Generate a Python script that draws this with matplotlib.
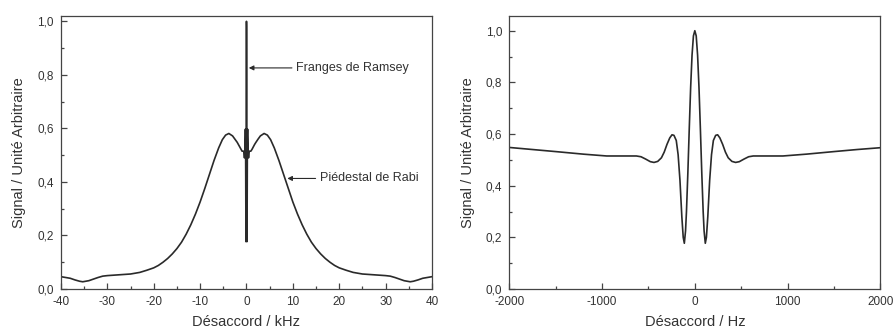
import numpy as np
import matplotlib
matplotlib.use("Agg")
from matplotlib import pyplot as plt
from matplotlib.ticker import MultipleLocator, FuncFormatter

plt.rcParams['font.family'] = ['Liberation Sans', 'DejaVu Sans']
plt.rcParams['axes.unicode_minus'] = False

# Ramsey fringes (right panel), detuning in Hz
fringe_hz = [-2000, -1750, -1500, -1200, -950, -800, -630, -580, -530, -480, -440, -400,
             -360, -330, -300, -270, -246, -225, -200, -180, -160, -140, -125, -113,
             -100, -90, -75, -60, -45, -30, -15, 0,
             15, 30, 45, 60, 75, 90, 100, 113, 125, 140, 160, 180, 200, 225, 246,
             270, 300, 330, 360, 400, 440, 480, 530, 580, 630, 800, 950, 1200, 1500,
             1750, 2000]
fringe_sig = [0.548, 0.540, 0.532, 0.522, 0.515, 0.515, 0.515, 0.512, 0.503, 0.493, 0.490, 0.494,
              0.508, 0.530, 0.560, 0.585, 0.597, 0.595, 0.575, 0.520, 0.420, 0.280, 0.200, 0.177,
              0.225, 0.300, 0.450, 0.620, 0.780, 0.905, 0.980, 1.000,
              0.980, 0.905, 0.780, 0.620, 0.450, 0.300, 0.225, 0.177, 0.200, 0.280, 0.420, 0.520,
              0.575, 0.595, 0.597,
              0.585, 0.560, 0.530, 0.508, 0.494, 0.490, 0.493, 0.503, 0.512, 0.515, 0.515, 0.515,
              0.522, 0.532, 0.540, 0.547]

# Rabi pedestal (left panel), detuning in kHz, outside the fringe region
ped_left_khz = [-40, -38, -37, -36, -35.3, -34, -33, -32, -31, -30, -27.5, -25, -23, -21.5,
                -20, -19, -18, -17, -16, -15, -14, -13, -12, -11, -10, -9, -8, -7, -6,
                -5.2, -4.5, -3.8, -3, -2.5]
ped_left_sig = [0.046, 0.040, 0.034, 0.029, 0.027, 0.031, 0.037, 0.043, 0.048, 0.050, 0.053, 0.056,
                0.062, 0.070, 0.079, 0.088, 0.100, 0.114, 0.131, 0.151, 0.175, 0.205, 0.240,
                0.280, 0.325, 0.375, 0.428, 0.480, 0.527, 0.558, 0.575, 0.581, 0.572, 0.560]
ped_right_khz = [2.5, 3, 3.8, 4.5, 5.2, 6, 7, 8, 9, 10, 11, 12, 13, 14, 15, 16, 17, 18, 19,
                 20, 21.5, 23, 25, 27.5, 30, 31, 32, 33, 34, 35.3, 36, 37, 38, 40]
ped_right_sig = [0.560, 0.572, 0.581, 0.575, 0.558, 0.527, 0.480, 0.428, 0.375, 0.325, 0.280,
                 0.240, 0.205, 0.175, 0.151, 0.131, 0.114, 0.100, 0.088, 0.079, 0.070, 0.062,
                 0.056, 0.053, 0.050, 0.048, 0.043, 0.037, 0.031, 0.027, 0.029, 0.034, 0.040, 0.046]

x_left = np.concatenate([ped_left_khz, np.array(fringe_hz) / 1000.0, ped_right_khz])
y_left = np.concatenate([ped_left_sig, fringe_sig, ped_right_sig])

line_col = "#2a2a2a"
txt_col = "#333333"
comma = FuncFormatter(lambda v, p: ("%.1f" % v).replace(".", ","))

fig = plt.figure(figsize=(8.94, 3.29), dpi=100)
ax1 = fig.add_axes([0.0682, 0.1216, 0.415, 0.8298])
ax2 = fig.add_axes([0.5697, 0.1216, 0.415, 0.8298])

ax1.plot(x_left, y_left, color=line_col, linewidth=1.2)
ax1.set_xlim(-40, 40)
ax1.set_ylim(0, 1.02)
ax1.xaxis.set_major_locator(MultipleLocator(10))
ax1.xaxis.set_minor_locator(MultipleLocator(5))
ax1.set_xlabel("Désaccord / kHz", fontsize=10.5, color=txt_col, labelpad=5)

ax1.annotate("Franges de Ramsey", xy=(0.5, 0.826), xytext=(10.7, 0.826),
             fontsize=9, color=txt_col, va="center",
             arrowprops=dict(arrowstyle="-|>", color=line_col, lw=0.8,
                             mutation_scale=7, shrinkA=1, shrinkB=0))
ax1.annotate("Piédestal de Rabi", xy=(8.8, 0.413), xytext=(15.8, 0.413),
             fontsize=9, color=txt_col, va="center",
             arrowprops=dict(arrowstyle="-|>", color=line_col, lw=0.8,
                             mutation_scale=7, shrinkA=1, shrinkB=0))

ax2.plot(fringe_hz, fringe_sig, color=line_col, linewidth=1.2)
ax2.set_xlim(-2000, 2000)
ax2.set_ylim(0, 1.057)
ax2.xaxis.set_major_locator(MultipleLocator(1000))
ax2.xaxis.set_minor_locator(MultipleLocator(500))
ax2.set_xlabel("Désaccord / Hz", fontsize=10.5, color=txt_col, labelpad=5)

for ax in (ax1, ax2):
    ax.yaxis.set_major_locator(MultipleLocator(0.2))
    ax.yaxis.set_minor_locator(MultipleLocator(0.1))
    ax.yaxis.set_major_formatter(comma)
    ax.set_ylabel("Signal / Unité Arbitraire", fontsize=10.5, color=txt_col, labelpad=8)
    ax.tick_params(which="both", direction="in", colors="#444444", labelcolor=txt_col,
                   labelsize=8.5, width=0.9)
    ax.tick_params(which="major", length=4, pad=5)
    ax.tick_params(which="minor", length=2.5)
    for s in ax.spines.values():
        s.set_color("#444444")
        s.set_linewidth(0.9)

fig.savefig("out.png", dpi=100)
